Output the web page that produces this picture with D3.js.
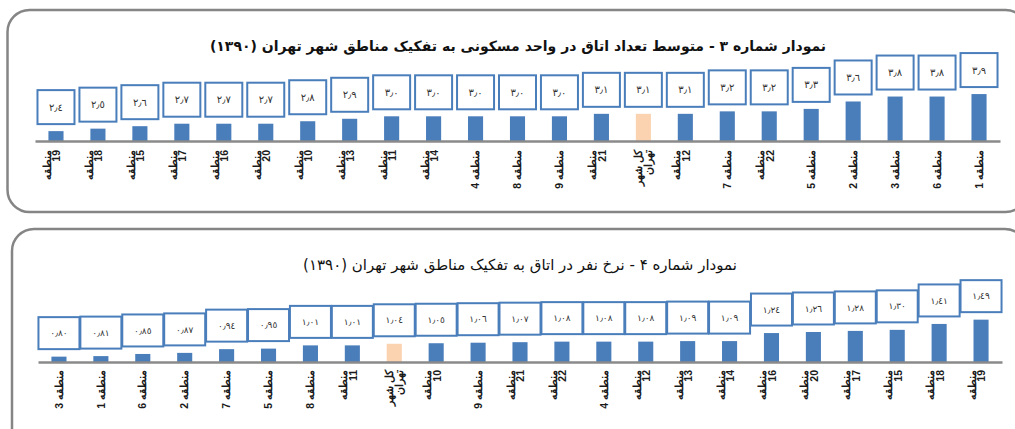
<!DOCTYPE html>
<html lang="fa">
<head>
<meta charset="UTF-8">
<title>Tehran rooms charts</title>
<script src="https://d3js.org/d3.v7.min.js"></script>
<style>
  body { margin: 0; background: #fff; }
  svg { display: block; font-family: "DejaVu Sans", sans-serif; }
</style>
</head>
<body>
<svg width="1015" height="429"></svg>
<script>
  // data
  var TOTAL = "کل شهر تهران";

  var regions3 = ["19","18","15","17","16","20","10","13","11","14","4","8","9","21",TOTAL,"12","7","22","5","2","3","6","1"];
  var rooms3 = [2.4,2.5,2.6,2.7,2.7,2.7,2.8,2.9,3.0,3.0,3.0,3.0,3.0,3.1,3.1,3.1,3.2,3.2,3.3,3.6,3.8,3.8,3.9];
  var title3 = "نمودار شماره ۳ - متوسط تعداد اتاق در واحد مسکونی  به تفکیک مناطق شهر تهران (۱۳۹۰)";

  var regions4 = ["3","1","6","2","7","5","8","11",TOTAL,"10","9","21","22","4","12","13","14","16","20","17","15","18","19"];
  var persons4 = [0.80,0.81,0.85,0.87,0.94,0.95,1.01,1.01,1.04,1.05,1.06,1.07,1.08,1.08,1.08,1.09,1.09,1.24,1.26,1.28,1.30,1.41,1.49];
  var title4 = "نمودار  شماره ۴ - نرخ نفر در اتاق به تفکیک مناطق شهر تهران (۱۳۹۰)";

  var BLUE = "#4a7ebb", PEACH = "#fbd3b1";
  var svg = d3.select("svg");

  function arabicNum(s) {
    return s.replace(/\d/g, function(d) { return "٠١٢٣٤٥٦٧٨٩"[+d]; }).replace(".", "٫");
  }

  function drawPanel(cfg) {
    var g = svg.append("g");

    // rounded frame
    g.append("rect")
      .attr("x", cfg.frame[0]).attr("y", cfg.frame[1])
      .attr("width", cfg.frame[2]).attr("height", cfg.frame[3])
      .attr("rx", 22).attr("ry", 22)
      .attr("fill", "none")
      .attr("stroke", "#858585")
      .attr("stroke-width", 2.5);

    g.append("text")
      .attr("x", cfg.titleX).attr("y", cfg.titleY)
      .attr("direction", "rtl")
      .attr("text-anchor", "middle")
      .attr("font-size", cfg.titleSize)
      .attr("font-weight", cfg.titleWeight)
      .attr("fill", "#111")
      .text(cfg.title);

    var x = d3.scaleBand()
      .domain(cfg.cats)
      .range(cfg.xRange)
      .paddingInner(0.64)
      .paddingOuter(0.32);

    var y = d3.scaleLinear()
      .domain(cfg.yDomain)
      .range([cfg.base, cfg.base - (cfg.yDomain[1] - cfg.yDomain[0]) * cfg.pxPerUnit]);

    var rows = cfg.cats.map(function(c, i) { return { cat: c, v: cfg.vals[i] }; });

    // bars
    g.selectAll(".bar")
      .data(rows)
      .enter().append("rect")
      .attr("x", function(d) { return x(d.cat); })
      .attr("y", function(d) { return y(d.v); })
      .attr("width", x.bandwidth())
      .attr("height", function(d) { return cfg.base - y(d.v); })
      .attr("fill", function(d) { return d.cat === TOTAL ? PEACH : BLUE; });

    // value boxes
    var lab = g.selectAll(".lab")
      .data(rows)
      .enter().append("g")
      .attr("transform", function(d) {
        return "translate(" + (x(d.cat) + x.bandwidth() / 2) + "," + (y(d.v) - cfg.gap - cfg.boxH / 2) + ")";
      });
    lab.append("rect")
      .attr("x", -cfg.boxW / 2).attr("y", -cfg.boxH / 2)
      .attr("width", cfg.boxW).attr("height", cfg.boxH)
      .attr("fill", "#fff")
      .attr("stroke", BLUE)
      .attr("stroke-width", 2);
    lab.append("text")
      .attr("text-anchor", "middle")
      .attr("dy", "0.35em")
      .attr("font-size", cfg.numSize)
      .attr("letter-spacing", 1)
      .attr("fill", "#333")
      .text(function(d) { return arabicNum(d3.format(cfg.fmt)(d.v)); });

    // category axis
    var axis = g.append("g")
      .attr("transform", "translate(0," + cfg.base + ")")
      .call(d3.axisBottom(x).tickSize(0).tickSizeOuter(0));
    axis.select(".domain")
      .attr("stroke", "#8a8a8a")
      .attr("stroke-width", 2.5);
    axis.selectAll(".tick text").remove();

    axis.selectAll(".tick").each(function(c) {
      var lines;
      if (c === TOTAL) lines = ["کل شهر", "تهران"];
      else if (c.length > 1) lines = ["منطقه", c];
      else lines = ["منطقه  " + c];
      var shift = (lines.length > 1 && c !== TOTAL) ? -4 : 0;
      var lh = 0.9;
      var first = lines.length > 1 ? (0.35 - lh / 2) : 0.35;
      var t = d3.select(this).append("text")
        .attr("transform", "translate(" + shift + "," + cfg.labelGap + ") rotate(-90)")
        .attr("direction", "rtl")
        .attr("text-anchor", "start")
        .attr("font-size", 10.5)
        .attr("font-weight", "bold")
        .attr("fill", "#1a1a1a");
      lines.forEach(function(s, i) {
        t.append("tspan")
          .attr("x", 0)
          .attr("dy", (i === 0 ? first : lh) + "em")
          .text(s);
      });
    });
  }

  drawPanel({
    frame: [7.5, 10, 1020, 202],
    title: title3, titleX: 518, titleY: 51, titleSize: 14, titleWeight: "bold",
    cats: regions3, vals: rooms3,
    xRange: [35, 1000], base: 141, yDomain: [2, 4], pxPerUnit: 24.7,
    boxW: 37, boxH: 34, gap: 7, numSize: 10, fmt: ".1f", labelGap: 9
  });

  drawPanel({
    frame: [12, 229, 1015, 230],
    title: title4, titleX: 520, titleY: 270, titleSize: 15, titleWeight: "normal",
    cats: regions4, vals: persons4,
    xRange: [38, 1002], base: 362, yDomain: [0.7, 1.5], pxPerUnit: 53.6,
    boxW: 41, boxH: 32, gap: 7.5, numSize: 9, fmt: ".2f", labelGap: 8
  });
</script>
</body>
</html>
